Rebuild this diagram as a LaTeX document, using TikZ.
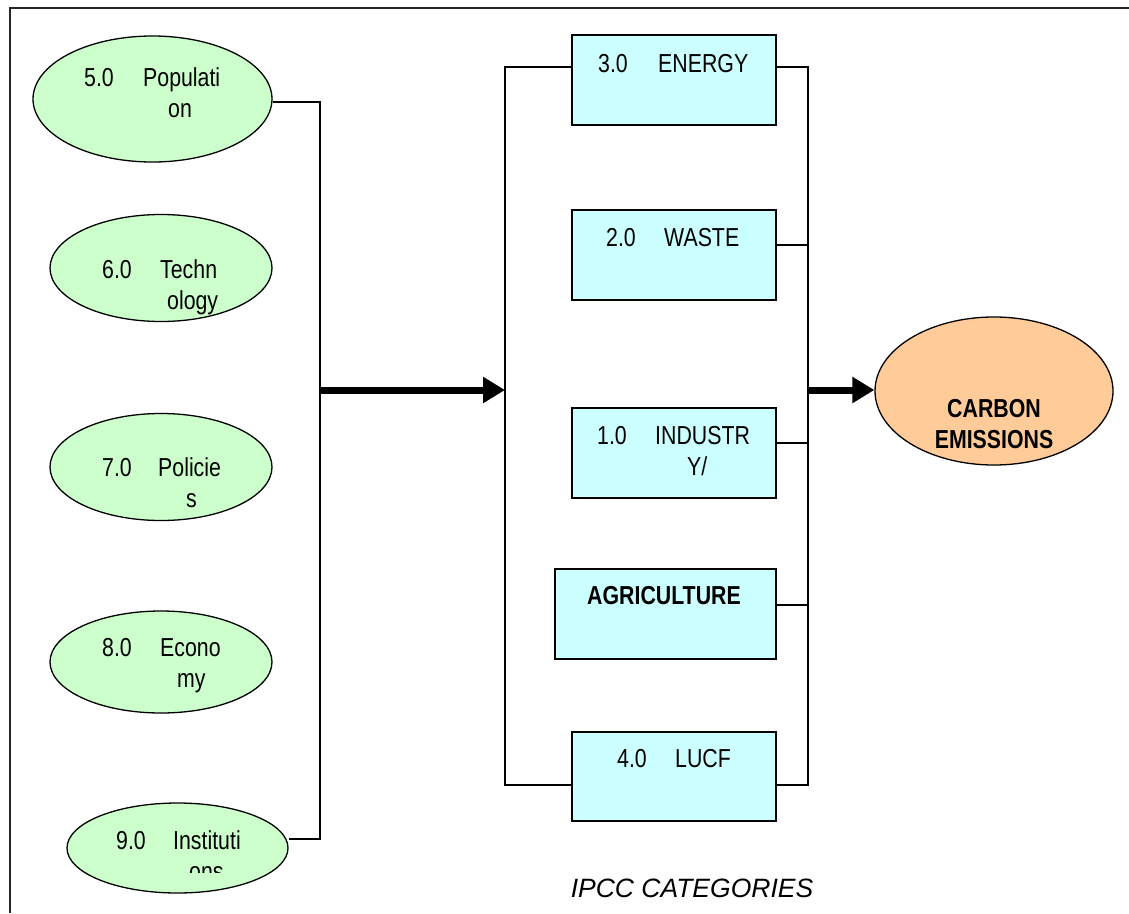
\documentclass[tikz,border=0pt]{standalone}
\usepackage{fontspec}
\setmainfont{Liberation Sans}
\newfontfamily\nf[FakeStretch=0.82]{Liberation Sans}
\usetikzlibrary{shapes.geometric,arrows.meta}
\definecolor{drvgreen}{HTML}{CCFFCC}
\definecolor{catcyan}{HTML}{CCFFFF}
\definecolor{emitorange}{HTML}{FFCC99}
\tikzset{
  driver/.style={ellipse, draw=black, line width=1.3pt, fill=drvgreen, inner sep=0pt},
  catbox/.style={rectangle, draw=black, line width=1.3pt, fill=catcyan, inner sep=0pt},
  emit/.style={ellipse, draw=black, line width=1.3pt, fill=emitorange, inner sep=0pt},
  lbl/.style={anchor=base west, inner sep=0pt, font=\nf\fontsize{26}{31}\selectfont},
  bus/.style={draw=black, line width=1.6pt},
  bigarrow/.style={draw=black, line width=7pt, -{Triangle[length=22pt,width=25pt]}},
}
\begin{document}
\begin{tikzpicture}[x=1pt, y=-1pt]
  \useasboundingbox (0,0) rectangle (1129,913);
  % page frame
  \draw[line width=1.6pt, black!85] (10,913) -- (10,8) -- (1129,8);

  % driver ellipses
  \node[driver, minimum width=239pt, minimum height=126pt] (pop)  at (152.5,99) {};
  \node[driver, minimum width=222pt, minimum height=107pt] (tech) at (161,268) {};
  \node[driver, minimum width=222pt, minimum height=107pt] (pol)  at (161,467) {};
  \node[driver, minimum width=222pt, minimum height=102pt] (eco)  at (161,662) {};
  \node[driver, minimum width=221pt, minimum height=90pt]  (inst) at (177.5,848) {};

  \node[lbl] (popa) at (84,86) {5.0};
  \node[lbl] (popb) at (143,86) {Populati};
  \node[lbl] (popc) at (168,117) {on};
  \node[lbl] (teca) at (102,278) {6.0};
  \node[lbl] (tecb) at (160,278) {Techn};
  \node[lbl] (tecc) at (167,309) {ology};
  \node[lbl] (pola) at (102,476) {7.0};
  \node[lbl] (polb) at (158,476) {Policie};
  \node[lbl] (polc) at (186,507) {s};
  \node[lbl] (ecoa) at (102,656) {8.0};
  \node[lbl] (ecob) at (160,656) {Econo};
  \node[lbl] (ecoc) at (177,687) {my};
  \node[lbl] (insa) at (116,849) {9.0};
  \node[lbl] (insb) at (173,849) {Instituti};
  \begin{scope}
    \clip (150,855) rectangle (260,872);
    \node[lbl] (insc) at (189,880) {ons};
  \end{scope}

  % IPCC category boxes
  \node[catbox, minimum width=204pt, minimum height=90pt] (energy) at (674,80) {};
  \node[catbox, minimum width=204pt, minimum height=90pt] (waste)  at (674,255) {};
  \node[catbox, minimum width=204pt, minimum height=90pt] (indus)  at (674,453) {};
  \node[catbox, minimum width=221pt, minimum height=90pt] (agri)   at (665.5,614) {};
  \node[catbox, minimum width=204pt, minimum height=89pt] (lucf)   at (674,776.5) {};

  \node[lbl] (ena) at (598,72) {3.0};
  \node[lbl] (enb) at (658,72) {ENERGY};
  \node[lbl] (waa) at (606,246) {2.0};
  \node[lbl] (wab) at (664,246) {WASTE};
  \node[lbl] (ina) at (597,444) {1.0};
  \node[lbl] (inb) at (655,444) {INDUSTR};
  \node[lbl] (inc) at (687,475) {Y/};
  \node[lbl, font=\nf\bfseries\fontsize{26}{31}\selectfont] (aga) at (587,604) {AGRICULTURE};
  \node[lbl] (lua) at (617,767) {4.0};
  \node[lbl] (lub) at (675,767) {LUCF};

  % carbon emissions
  \node[emit, minimum width=238pt, minimum height=148pt] (carbon) at (994,391) {};
  \node[anchor=base, inner sep=0pt, font=\nf\bfseries\fontsize{26}{31}\selectfont] (cara) at (994,417) {CARBON};
  \node[anchor=base, inner sep=0pt, font=\nf\bfseries\fontsize{26}{31}\selectfont] (carb) at (994,448) {EMISSIONS};

  % caption
  \node[anchor=base, inner sep=0pt, font=\itshape\fontsize{26.5}{31}\selectfont] (cap) at (692,897) {IPCC CATEGORIES};

  % bus bars
  \coordinate (ebt) at (320,102);
  \coordinate (ebb) at (320,839);
  \coordinate (lt) at (505,67);
  \coordinate (lb) at (505,785);
  \coordinate (rt) at (808,67);
  \coordinate (rb) at (808,785);
  \coordinate (rw) at (808,245);
  \coordinate (ri) at (808,443);
  \coordinate (ra) at (808,605);
  \coordinate (am) at (320,390);

  \draw[bus] (pop.east |- ebt) -- (ebt) -- (ebb) -- (inst.east |- ebb);
  \draw[bus] (energy.west |- lt) -- (lt) -- (lb) -- (lucf.west |- lb);
  \draw[bus] (energy.east |- rt) -- (rt) -- (rb) -- (lucf.east |- rb);
  \draw[bus] (waste.east |- rw) -- (rw);
  \draw[bus] (indus.east |- ri) -- (ri);
  \draw[bus] (agri.east |- ra) -- (ra);

  % flow arrows
  \draw[bigarrow] (am) -- (lt |- am);
  \draw[bigarrow] (rt |- am) -- (carbon.west |- am);
\end{tikzpicture}
\end{document}
